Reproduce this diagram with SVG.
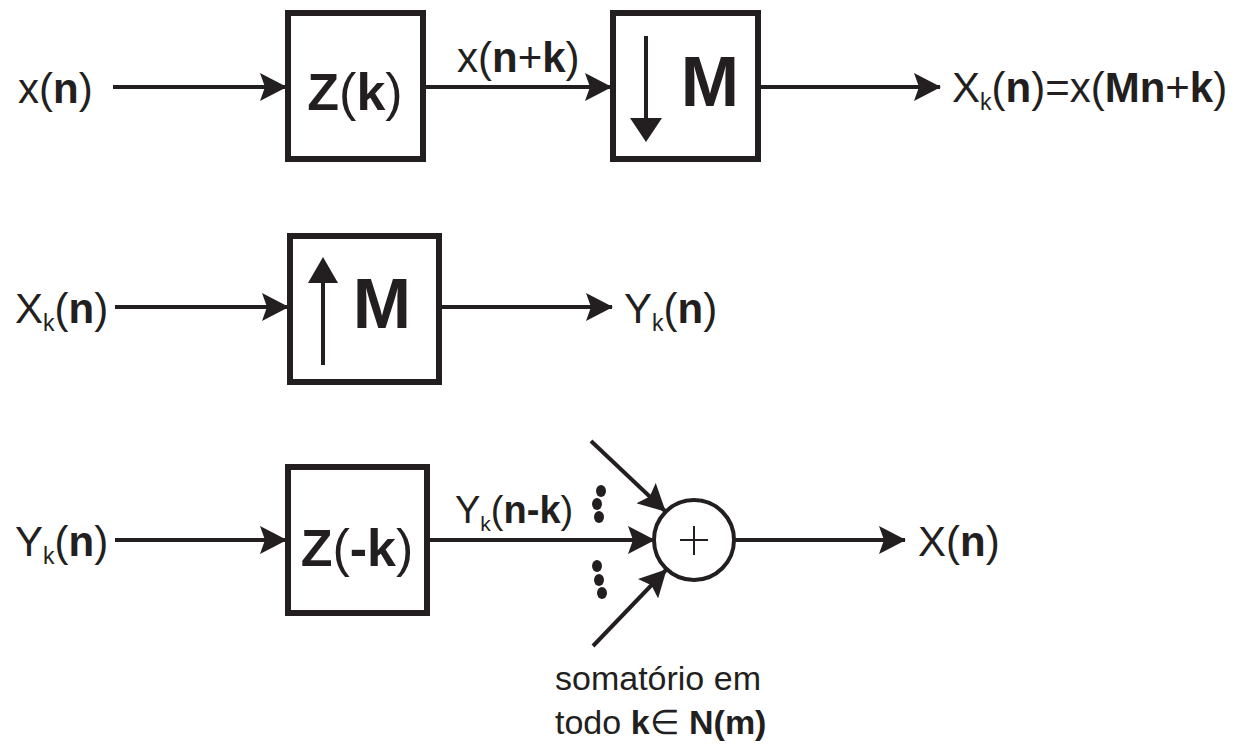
<svg xmlns="http://www.w3.org/2000/svg" width="1240" height="744" viewBox="0 0 1240 744">
<style>
.t{font-family:"Liberation Sans",Arial,sans-serif;font-size:42px;fill:#231f20}
.b{font-weight:bold}
.s{font-size:23px}
.box{fill:#fff;stroke:#231f20;stroke-width:6}
.ln{stroke:#231f20;stroke-width:4;fill:none}
.dot{fill:#231f20}
</style>
<defs>
<marker id="ah" viewBox="0 0 27 28" refX="26" refY="14" markerWidth="27" markerHeight="28" markerUnits="userSpaceOnUse" orient="auto">
<path d="M0,0 L27,14 L0,28 L5,14 z" fill="#231f20"/>
</marker>
</defs>
<rect width="1240" height="744" fill="#fff"/>
<g id="connectors">
<line class="ln" x1="113" y1="87" x2="286" y2="87" marker-end="url(#ah)"/>
<line class="ln" x1="424" y1="87" x2="611" y2="87" marker-end="url(#ah)"/>
<line class="ln" x1="759" y1="87" x2="940" y2="87" marker-end="url(#ah)"/>
<line class="ln" x1="115" y1="307" x2="288" y2="307" marker-end="url(#ah)"/>
<line class="ln" x1="441" y1="307" x2="612" y2="307" marker-end="url(#ah)"/>
<line class="ln" x1="115" y1="540" x2="286" y2="540" marker-end="url(#ah)"/>
<line class="ln" x1="429" y1="540" x2="654" y2="540" marker-end="url(#ah)"/>
<line class="ln" x1="591" y1="441" x2="665" y2="511" marker-end="url(#ah)"/>
<line class="ln" x1="593" y1="646" x2="666" y2="570" marker-end="url(#ah)"/>
<line class="ln" x1="734" y1="540" x2="905" y2="540" marker-end="url(#ah)"/>
</g>
<g id="in1"><text class="t" x="18" y="103">x(<tspan class="b">n</tspan>)</text></g>
<g id="zk">
<rect class="box" x="288" y="13" width="135" height="146"/>
<text class="t" x="355" y="110" text-anchor="middle" style="font-size:52px"><tspan class="b">Z</tspan>(<tspan class="b">k</tspan>)</text>
</g>
<g id="lbl1"><text class="t" x="457" y="72">x(<tspan class="b">n</tspan>+<tspan class="b">k</tspan>)</text></g>
<g id="down">
<rect class="box" x="613" y="13" width="145" height="146"/>
<line class="ln" x1="646" y1="36" x2="646" y2="122"/>
<path d="M630,118 L662,118 L646,142 z" fill="#231f20"/>
<text class="t b" x="710" y="106" text-anchor="middle" style="font-size:70px">M</text>
</g>
<g id="out1"><text class="t" x="952" y="102">X<tspan class="s" dy="8">k</tspan><tspan dy="-8">(</tspan><tspan class="b">n</tspan>)=x(<tspan class="b">Mn</tspan>+<tspan class="b">k</tspan>)</text></g>
<g id="in2"><text class="t" x="15" y="323">X<tspan class="s" dy="8">k</tspan><tspan dy="-8">(</tspan><tspan class="b">n</tspan>)</text></g>
<g id="up">
<rect class="box" x="290" y="236" width="149" height="146"/>
<line class="ln" x1="323" y1="365" x2="323" y2="280"/>
<path d="M308,283 L338,283 L323,257 z" fill="#231f20"/>
<text class="t b" x="382" y="328" text-anchor="middle" style="font-size:70px">M</text>
</g>
<g id="out2"><text class="t" x="624" y="323">Y<tspan class="s" dy="8">k</tspan><tspan dy="-8">(</tspan><tspan class="b">n</tspan>)</text></g>
<g id="in3"><text class="t" x="15" y="556">Y<tspan class="s" dy="8">k</tspan><tspan dy="-8">(</tspan><tspan class="b">n</tspan>)</text></g>
<g id="zmk">
<rect class="box" x="288" y="467" width="139" height="146"/>
<text class="t" x="357" y="566" text-anchor="middle" style="font-size:52px"><tspan class="b">Z</tspan>(<tspan class="b">-k</tspan>)</text>
</g>
<g id="lbl3"><text class="t" x="455" y="523" style="font-size:38px">Y<tspan class="s" dy="8" style="font-size:21px">k</tspan><tspan dy="-8">(</tspan><tspan class="b">n-k</tspan>)</text></g>
<g id="dots">
<ellipse class="dot" cx="601" cy="491" rx="5" ry="6"/>
<ellipse class="dot" cx="597" cy="504" rx="5" ry="6"/>
<ellipse class="dot" cx="599" cy="517" rx="5" ry="6"/>
<ellipse class="dot" cx="597" cy="566" rx="5" ry="6"/>
<ellipse class="dot" cx="599" cy="580" rx="5" ry="6"/>
<ellipse class="dot" cx="602" cy="593" rx="5" ry="6"/>
</g>
<g id="sum">
<circle cx="694" cy="540" r="40" fill="#fff" stroke="#231f20" stroke-width="4"/>
<line x1="680" y1="540" x2="708" y2="540" stroke="#231f20" stroke-width="2"/>
<line x1="694" y1="526" x2="694" y2="555" stroke="#231f20" stroke-width="2"/>
</g>
<g id="out3"><text class="t" x="918" y="556">X(<tspan class="b">n</tspan>)</text></g>
<g id="note">
<text class="t" x="555" y="690" style="font-size:34px">somatório em</text>
<text class="t" x="555" y="734" style="font-size:34px">todo <tspan class="b">k</tspan>∈ <tspan class="b">N(m)</tspan></text>
</g>
</svg>
